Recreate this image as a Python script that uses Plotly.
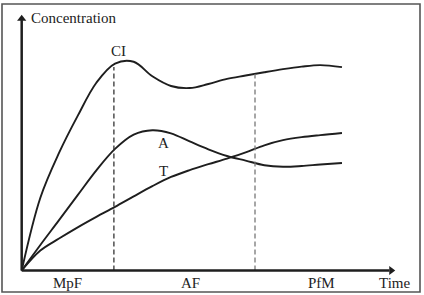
import plotly.graph_objects as go

# Data (abstract time / concentration units)
ci_t = [0, 0.5, 1.0, 1.5, 2.0, 2.5, 3.0, 3.5, 4.0, 4.5, 5.0, 5.5, 6.0, 6.5, 7.0, 7.5, 8.0, 8.58]
ci_c = [0, 2.85, 4.6, 6.05, 7.35, 8.1, 8.17, 7.6, 7.22, 7.14, 7.3, 7.5, 7.63, 7.76, 7.88, 7.98, 8.04, 7.96]

a_t = [0, 0.5, 1.0, 1.5, 2.0, 2.5, 3.0, 3.5, 4.0, 4.5, 5.0, 5.5, 6.0, 6.5, 7.0, 7.5, 8.0, 8.58]
a_c = [0, 1.0, 1.97, 2.95, 3.92, 4.76, 5.32, 5.49, 5.37, 5.05, 4.74, 4.48, 4.3, 4.12, 4.06, 4.09, 4.15, 4.21]

t_t = [0, 0.5, 1.0, 1.5, 2.0, 2.5, 3.0, 3.5, 4.0, 4.5, 5.0, 5.5, 6.0, 6.5, 7.0, 7.5, 8.0, 8.58]
t_c = [0, 0.78, 1.25, 1.69, 2.1, 2.49, 2.9, 3.3, 3.66, 3.93, 4.16, 4.38, 4.62, 4.9, 5.1, 5.22, 5.3, 5.38]

phase_bounds = [2.47, 6.25]
phase_tops = [7.96, 7.69]
phase_labels = ["MpF", "AF", "PfM"]
phase_label_t = [1.24, 4.51, 8.04]

curve_labels = ["CI", "A", "T"]
curve_label_t = [2.58, 3.79, 3.79]
curve_label_c = [8.6, 4.99, 3.89]

axis_max_t = 10.0
axis_max_c = 10.0

FONT = "Liberation Serif"
fig = go.Figure()

line_col = "#1e1e1e"
for xs, ys in [(ci_t, ci_c), (a_t, a_c), (t_t, t_c)]:
    fig.add_trace(go.Scatter(x=xs, y=ys, mode="lines",
                             line=dict(color=line_col, width=1.9, shape="spline", smoothing=1.0),
                             hoverinfo="skip", showlegend=False))

dash_cols = ["#333333", "#777777"]
for b, top, col in zip(phase_bounds, phase_tops, dash_cols):
    fig.add_trace(go.Scatter(x=[b, b], y=[0, top], mode="lines",
                             line=dict(color=col, width=1.3, dash="5px,3px"),
                             hoverinfo="skip", showlegend=False))

# Axes
fig.add_trace(go.Scatter(x=[0, 0], y=[0, axis_max_c - 0.2], mode="lines",
                         line=dict(color="#1e1e1e", width=2.5), hoverinfo="skip", showlegend=False))
fig.add_trace(go.Scatter(x=[0, axis_max_t - 0.15], y=[0, 0], mode="lines",
                         line=dict(color="#1e1e1e", width=2.5), hoverinfo="skip", showlegend=False))
fig.add_trace(go.Scatter(x=[0], y=[axis_max_c - 0.15], mode="markers",
                         marker=dict(symbol="triangle-up", size=8, color="#1e1e1e"),
                         hoverinfo="skip", showlegend=False))
fig.add_trace(go.Scatter(x=[axis_max_t - 0.1], y=[0], mode="markers",
                         marker=dict(symbol="triangle-right", size=8, color="#1e1e1e"),
                         hoverinfo="skip", showlegend=False))

# Texts
fig.add_annotation(x=0.196, y=9.88, text="Concentration", showarrow=False, xanchor="left",
                   yanchor="middle", font=dict(family=FONT, size=15, color="#222"))
fig.add_annotation(x=axis_max_t, y=-0.47, text="Time", showarrow=False, xanchor="center",
                   yanchor="middle", font=dict(family=FONT, size=15, color="#222"))
for lab, x in zip(phase_labels, phase_label_t):
    fig.add_annotation(x=x, y=-0.47, text=lab, showarrow=False, xanchor="center",
                       yanchor="middle", font=dict(family=FONT, size=15, color="#222"))
for lab, x, y in zip(curve_labels, curve_label_t, curve_label_c):
    fig.add_annotation(x=x, y=y, text=lab, showarrow=False, xanchor="center",
                       yanchor="middle", font=dict(family=FONT, size=15, color="#222"))

# Frame
fig.add_shape(type="rect", xref="paper", yref="paper",
              x0=2/424, x1=420/424, y0=1-292/295, y1=1-4/295,
              line=dict(color="#555555", width=1.6))

fig.update_layout(
    width=424, height=295,
    margin=dict(l=0, r=0, t=0, b=0),
    paper_bgcolor="white", plot_bgcolor="white",
    xaxis=dict(range=[-0.581, 10.777], visible=False, fixedrange=True),
    yaxis=dict(range=[-0.959, 10.587], visible=False, fixedrange=True),
    showlegend=False,
)

fig.write_html("out.html")
